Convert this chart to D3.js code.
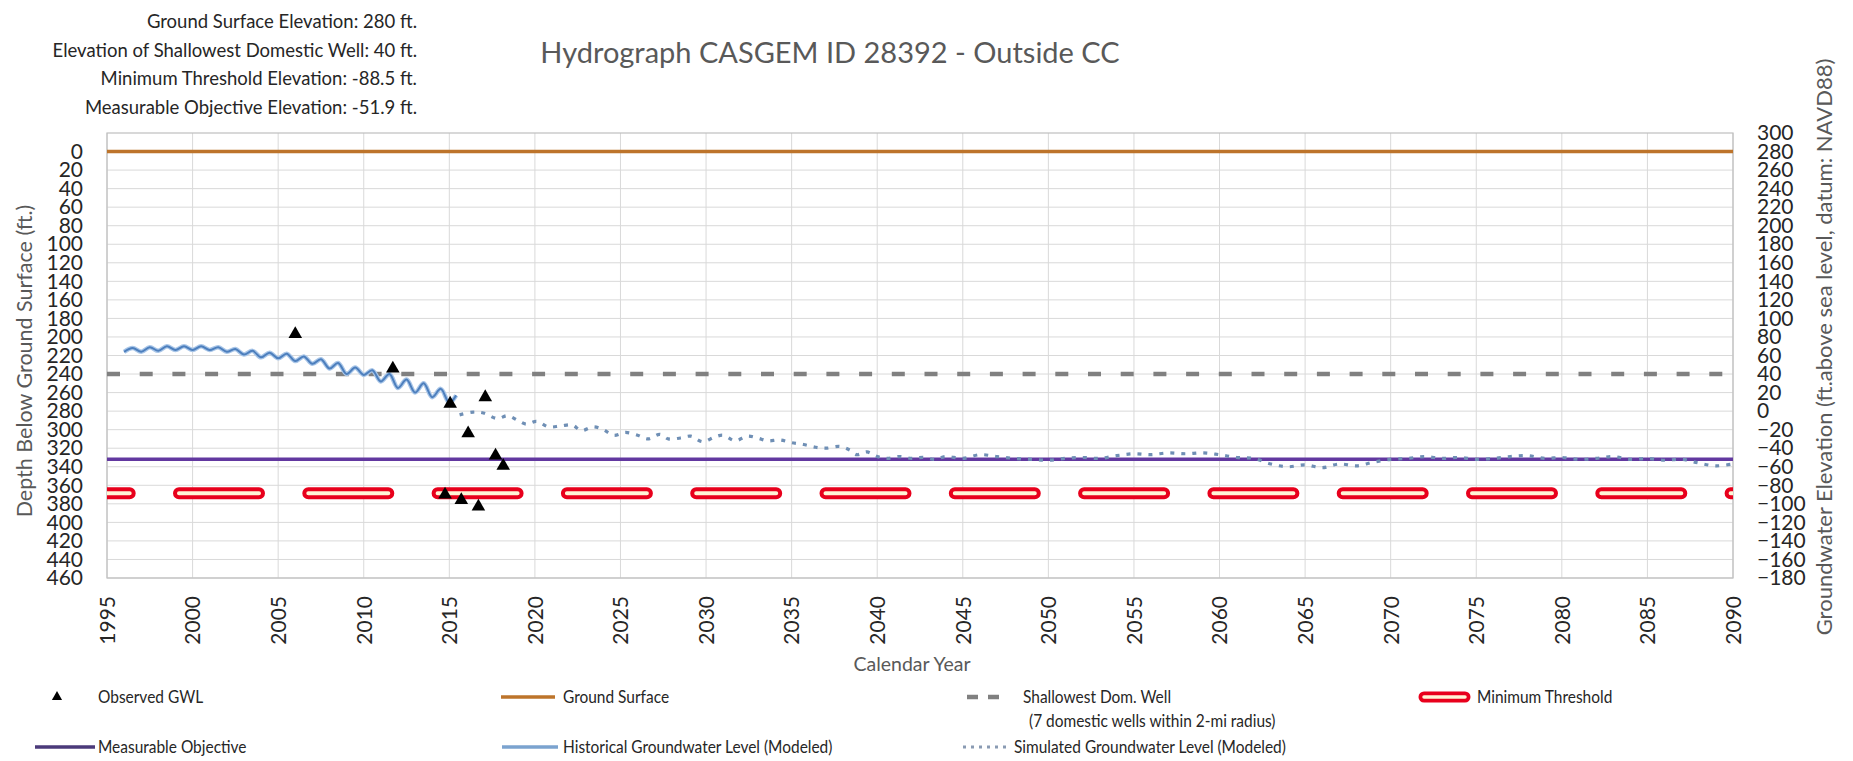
<!DOCTYPE html>
<html>
<head>
<meta charset="utf-8">
<script src="https://cdn.jsdelivr.net/npm/d3@7"></script>
<style>
  body { margin: 0; background: #ffffff; }
  svg { font-family: Lato, "Open Sans", sans-serif; }
</style>
</head>
<body>
<div id="chart"></div>
<script>
const infoLines = [
  "Ground Surface Elevation: 280 ft.",
  "Elevation of Shallowest Domestic Well: 40 ft.",
  "Minimum Threshold Elevation: -88.5 ft.",
  "Measurable Objective Elevation: -51.9 ft."
];
const chartTitle = "Hydrograph CASGEM ID 28392 - Outside CC";

// reference elevations (ft above sea level)
const groundSurfaceElev = 280;
const shallowWellElev = 40;
const minThresholdElev = -88.5;
const measObjectiveElev = -51.9;

// tick labels
const yearTicks = [1995, 2000, 2005, 2010, 2015, 2020, 2025, 2030, 2035, 2040,
                   2045, 2050, 2055, 2060, 2065, 2070, 2075, 2080, 2085, 2090];
const depthTicks = [0, 20, 40, 60, 80, 100, 120, 140, 160, 180, 200, 220, 240,
                    260, 280, 300, 320, 340, 360, 380, 400, 420, 440, 460];
const elevTicks = [300, 280, 260, 240, 220, 200, 180, 160, 140, 120, 100, 80, 60,
                   40, 20, 0, -20, -40, -60, -80, -100, -120, -140, -160, -180];

// observed groundwater levels (depth below ground surface, ft)
const obsYears = [2006.0, 2011.7, 2014.75, 2015.05, 2015.7, 2016.1, 2016.7, 2017.1, 2017.7, 2018.15];
const obsDepth = [197, 234, 370, 272, 376, 304, 383, 265, 328, 339];

// historical modeled level (depth, ft)
const histYears = [1996.0, 1996.5, 1997.0, 1997.5, 1998.0, 1998.5, 1999.0, 1999.5, 2000.0, 2000.5,
                   2001.0, 2001.5, 2002.0, 2002.5, 2003.0, 2003.5, 2004.0, 2004.5, 2005.0, 2005.5,
                   2006.0, 2006.5, 2007.0, 2007.5, 2008.0, 2008.5, 2009.0, 2009.5, 2010.0, 2010.5,
                   2011.0, 2011.5, 2012.0, 2012.5, 2013.0, 2013.5, 2014.0, 2014.5, 2015.0, 2015.4];
const histDepth = [216, 212, 216, 211, 215, 210, 214, 210, 214, 210,
                   214, 211, 216, 213, 219, 215, 222, 217, 223, 218,
                   226, 221, 229, 224, 234, 228, 240, 233, 241, 236,
                   248, 240, 255, 246, 260, 250, 265, 256, 271, 263];

// simulated modeled level (depth, ft)
const simYears = [2015.6, 2016.4, 2017.0, 2017.8, 2018.4, 2019.0, 2019.5, 2020.1, 2020.8, 2021.5,
                  2022.2, 2022.7, 2023.4, 2024.0, 2024.6, 2025.3, 2026.0, 2026.6, 2027.3, 2027.8,
                  2028.5, 2029.1, 2029.8, 2030.5, 2031.0, 2031.7, 2032.4, 2033.0, 2033.6, 2034.3,
                  2035.0, 2035.7, 2036.4, 2037.0, 2037.8, 2038.4, 2038.8, 2039.4, 2040.0, 2040.6,
                  2041.3, 2042.0, 2042.7, 2043.4, 2044.0, 2045.0, 2046.0, 2047.0, 2048.0, 2049.0,
                  2050.0, 2051.0, 2052.0, 2053.0, 2054.0, 2055.0, 2056.0, 2057.0, 2058.0, 2059.0,
                  2060.0, 2061.0, 2062.0, 2063.0, 2064.0, 2065.0, 2066.0, 2067.0, 2068.0, 2069.0,
                  2070.0, 2071.0, 2072.0, 2073.0, 2074.0, 2075.0, 2076.0, 2077.0, 2078.0, 2079.0,
                  2080.0, 2081.0, 2082.0, 2083.0, 2084.0, 2085.0, 2086.0, 2087.0, 2088.0, 2089.0, 2090.0];
const simDepth = [284, 281, 282, 288, 285, 290, 294, 291, 297, 296,
                  295, 301, 297, 300, 306, 303, 306, 310, 305, 310,
                  309, 307, 313, 308, 306, 312, 307, 309, 312, 311,
                  314, 316, 319, 320, 318, 322, 327, 324, 329, 331,
                  329, 331, 330, 332, 329, 331, 327, 329, 331, 332,
                  333, 331, 330, 331, 328, 326, 327, 325, 326, 325,
                  327, 330, 331, 337, 340, 338, 341, 337, 339, 335,
                  332, 331, 329, 331, 330, 332, 331, 329, 328, 331,
                  330, 332, 331, 329, 332, 331, 333, 332, 336, 339, 337];

const legendNames = ["Observed GWL", "Ground Surface", "Shallowest Dom. Well",
                     "Minimum Threshold", "Measurable Objective",
                     "Historical Groundwater Level (Modeled)",
                     "Simulated Groundwater Level (Modeled)"];

// ---- layout ----
const W = 1853, H = 761;
const plot = {left: 107, right: 1733, top: 133, bottom: 578};
const tickFont = 21;

const svg = d3.select("#chart").append("svg")
  .attr("width", W)
  .attr("height", H);

const x = d3.scaleLinear().domain([1995, 2090]).range([plot.left, plot.right]);
const yDepth = d3.scaleLinear().domain([-20, 460]).range([plot.top, plot.bottom]);
const yElev = d3.scaleLinear().domain([300, -180]).range([plot.top, plot.bottom]);

// clip for the plot area
svg.append("clipPath").attr("id", "plotClip")
  .append("rect")
  .attr("x", plot.left).attr("y", plot.top)
  .attr("width", plot.right - plot.left).attr("height", plot.bottom - plot.top);

// gridlines
const grid = svg.append("g");
grid.selectAll("line.h")
  .data(depthTicks)
  .enter().append("line")
  .attr("x1", plot.left).attr("x2", plot.right)
  .attr("y1", d => yDepth(d)).attr("y2", d => yDepth(d))
  .attr("stroke", "#d9d9d9").attr("stroke-width", 1);
grid.selectAll("line.v")
  .data(yearTicks)
  .enter().append("line")
  .attr("x1", d => x(d)).attr("x2", d => x(d))
  .attr("y1", plot.top).attr("y2", plot.bottom)
  .attr("stroke", "#d9d9d9").attr("stroke-width", 1);

// plot border
svg.append("rect")
  .attr("x", plot.left).attr("y", plot.top)
  .attr("width", plot.right - plot.left).attr("height", plot.bottom - plot.top)
  .attr("fill", "none").attr("stroke", "#bfbfbf").attr("stroke-width", 1.2);

// left axis (depth)
const leftAxis = d3.axisLeft(yDepth).tickValues(depthTicks).tickSize(0).tickPadding(24);
svg.append("g")
  .attr("transform", "translate(" + plot.left + ",0)")
  .call(leftAxis)
  .call(g => g.select(".domain").remove())
  .selectAll("text")
  .attr("font-family", "Lato, 'Open Sans', sans-serif")
  .attr("font-size", tickFont).attr("fill", "#262626");

// right axis (elevation)
const rightAxis = d3.axisRight(yElev).tickValues(elevTicks).tickSize(0).tickPadding(24);
svg.append("g")
  .attr("transform", "translate(" + plot.right + ",0)")
  .call(rightAxis)
  .call(g => g.select(".domain").remove())
  .selectAll("text")
  .attr("font-family", "Lato, 'Open Sans', sans-serif")
  .attr("font-size", tickFont).attr("fill", "#262626");

// bottom axis (years), rotated labels
const bottomAxis = d3.axisBottom(x).tickValues(yearTicks).tickSize(0).tickFormat(d3.format("d"));
svg.append("g")
  .attr("transform", "translate(0," + plot.bottom + ")")
  .call(bottomAxis)
  .call(g => g.select(".domain").remove())
  .selectAll("text")
  .attr("font-family", "Lato, 'Open Sans', sans-serif")
  .attr("font-size", tickFont).attr("fill", "#262626")
  .attr("text-anchor", "end")
  .attr("transform", "translate(0,18) rotate(-90)")
  .attr("x", 0).attr("y", 0).attr("dy", "0.35em");

// axis titles
svg.append("text")
  .attr("x", (plot.left + plot.right) / 2 - 8).attr("y", 671)
  .attr("text-anchor", "middle")
  .attr("font-size", 19.5).attr("fill", "#595959")
  .text("Calendar Year");

svg.append("text")
  .attr("transform", "translate(24,361) rotate(-90)")
  .attr("text-anchor", "middle").attr("dy", "0.35em")
  .attr("font-size", 21.5).attr("fill", "#595959")
  .text("Depth Below Ground Surface  (ft.)");

svg.append("text")
  .attr("transform", "translate(1824,347) rotate(-90)")
  .attr("text-anchor", "middle").attr("dy", "0.35em")
  .attr("font-size", 22).attr("fill", "#595959")
  .text("Groundwater Elevation (ft.above sea level, datum: NAVD88)");

// title + info block
svg.append("text")
  .attr("x", 830).attr("y", 63)
  .attr("text-anchor", "middle")
  .attr("font-size", 29).attr("fill", "#595959")
  .text(chartTitle);

svg.selectAll("text.info")
  .data(infoLines)
  .enter().append("text")
  .attr("class", "info")
  .attr("x", 417)
  .attr("y", (d, i) => 28 + i * 28.5)
  .attr("text-anchor", "end")
  .attr("font-size", 18.5).attr("fill", "#262626")
  .text(d => d);

// ---- series ----
const series = svg.append("g").attr("clip-path", "url(#plotClip)");

function hline(elev) {
  return d3.line()([[x(1995), yElev(elev)], [x(2090), yElev(elev)]]);
}

// ground surface
series.append("path")
  .attr("d", hline(groundSurfaceElev))
  .attr("stroke", "#bd742b").attr("stroke-width", 3.5).attr("fill", "none");

// shallowest domestic well
series.append("path")
  .attr("d", hline(shallowWellElev))
  .attr("stroke", "#808080").attr("stroke-width", 4.5).attr("fill", "none")
  .attr("stroke-dasharray", "13,19.7");

// measurable objective
series.append("path")
  .attr("d", hline(measObjectiveElev))
  .attr("stroke", "#6238a0").attr("stroke-width", 3.5).attr("fill", "none");

// minimum threshold - red capsule dashes
series.append("path")
  .attr("d", hline(minThresholdElev))
  .attr("stroke", "#e8001c").attr("stroke-width", 12).attr("fill", "none")
  .attr("stroke-linecap", "round")
  .attr("stroke-dasharray", "80,49.3").attr("stroke-dashoffset", 57.3);
series.append("path")
  .attr("d", hline(minThresholdElev))
  .attr("stroke", "#fff4d6").attr("stroke-width", 4).attr("fill", "none")
  .attr("stroke-linecap", "round")
  .attr("stroke-dasharray", "80,49.3").attr("stroke-dashoffset", 57.3);

// historical / simulated modeled levels
const histData = histYears.map((y, i) => [y, histDepth[i]]);
const simData = simYears.map((y, i) => [y, simDepth[i]]);
const lineGen = d3.line()
  .x(d => x(d[0]))
  .y(d => yDepth(d[1]))
  .curve(d3.curveCatmullRom);

// light halo under a darker core, like the original's two-tone line
series.append("path")
  .datum(histData)
  .attr("d", lineGen)
  .attr("stroke", "#a9c6e8").attr("stroke-width", 4.5).attr("fill", "none");
series.append("path")
  .datum(histData)
  .attr("d", lineGen)
  .attr("stroke", "#4d7fbd").attr("stroke-width", 2).attr("fill", "none");

series.append("path")
  .datum(simData)
  .attr("d", lineGen)
  .attr("stroke", "#6f8fb5").attr("stroke-width", 3.2).attr("fill", "none")
  .attr("stroke-dasharray", "4,7");

// observed GWL triangles
series.selectAll("path.obs")
  .data(obsYears)
  .enter().append("path")
  .attr("class", "obs")
  .attr("d", d3.symbol(d3.symbolTriangle, 80))
  .attr("transform", (d, i) => "translate(" + x(d) + "," + yDepth(obsDepth[i]) + ")")
  .attr("fill", "#000");

// ---- legend ----
const legend = svg.append("g").attr("font-size", 18).attr("fill", "#262626");
const row1 = 697, row2 = 747;

// legend text is narrow in the original, squeeze it a bit
function legendText(px, py, str) {
  legend.append("text")
    .attr("transform", "translate(" + px + "," + py + ") scale(0.86,1)")
    .attr("dy", "0.35em")
    .text(str);
}

legend.append("path")
  .attr("d", d3.symbol(d3.symbolTriangle, 45))
  .attr("transform", "translate(57," + row1 + ")")
  .attr("fill", "#000");
legendText(98, row1, legendNames[0]);

legend.append("line").attr("x1", 501).attr("x2", 555).attr("y1", row1).attr("y2", row1)
  .attr("stroke", "#bd742b").attr("stroke-width", 3.5);
legendText(563, row1, legendNames[1]);

legend.append("line").attr("x1", 967).attr("x2", 999).attr("y1", row1).attr("y2", row1)
  .attr("stroke", "#808080").attr("stroke-width", 4.5).attr("stroke-dasharray", "11,10");
legendText(1023, row1, legendNames[2]);
legendText(1029, row1 + 24, "(7 domestic wells within 2-mi radius)");

legend.append("line").attr("x1", 1424).attr("x2", 1465).attr("y1", row1).attr("y2", row1)
  .attr("stroke", "#e8001c").attr("stroke-width", 11).attr("stroke-linecap", "round");
legend.append("line").attr("x1", 1424).attr("x2", 1465).attr("y1", row1).attr("y2", row1)
  .attr("stroke", "#fff4d6").attr("stroke-width", 3.5).attr("stroke-linecap", "round");
legendText(1477, row1, legendNames[3]);

legend.append("line").attr("x1", 35).attr("x2", 95).attr("y1", row2).attr("y2", row2)
  .attr("stroke", "#4b3a7a").attr("stroke-width", 3.5);
legendText(98, row2, legendNames[4]);

legend.append("line").attr("x1", 502).attr("x2", 558).attr("y1", row2).attr("y2", row2)
  .attr("stroke", "#7ba3cf").attr("stroke-width", 3.5);
legendText(563, row2, legendNames[5]);

legend.append("line").attr("x1", 963).attr("x2", 1010).attr("y1", row2).attr("y2", row2)
  .attr("stroke", "#8a9bb3").attr("stroke-width", 3).attr("stroke-dasharray", "3,5");
legendText(1014, row2, legendNames[6]);
</script>
</body>
</html>
